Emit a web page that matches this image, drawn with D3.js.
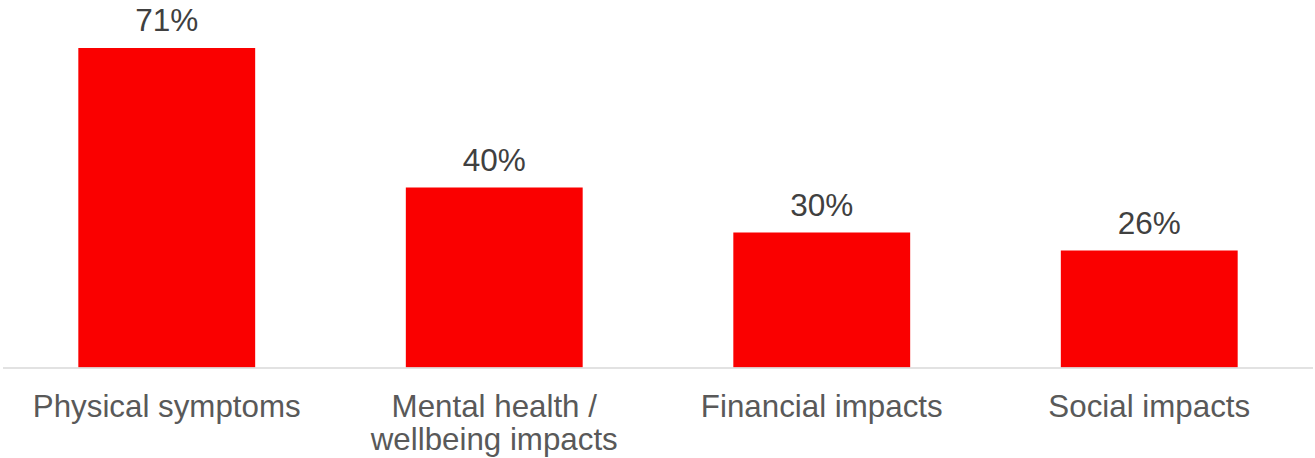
<!DOCTYPE html>
<html>
<head>
<meta charset="utf-8">
<script src="https://cdn.jsdelivr.net/npm/d3@7"></script>
<style>
  html, body { margin: 0; padding: 0; background: #ffffff; }
  svg { display: block; }
</style>
</head>
<body>
<svg id="chart" width="1315" height="458"></svg>
<script>
// Share of respondents reporting each type of impact
const categories = [
  ["Physical symptoms"],
  ["Mental health /", "wellbeing impacts"],
  ["Financial impacts"],
  ["Social impacts"]
];
const categoryKeys = ["Physical symptoms", "Mental health / wellbeing impacts", "Financial impacts", "Social impacts"];
const values = [71, 40, 30, 26];

const width = 1315, height = 458;
const baseline = 367.5;

const svg = d3.select("#chart");

const x = d3.scaleBand()
  .domain(categoryKeys)
  .range([3, 1313])
  .paddingInner(0.46)
  .paddingOuter(0.23);

const y = d3.scaleLinear()
  .domain([0, 71])
  .range([baseline, 48]);

// Bars
svg.append("g")
  .selectAll("rect")
  .data(values)
  .join("rect")
  .attr("x", (d, i) => x(categoryKeys[i]))
  .attr("width", x.bandwidth())
  .attr("y", d => y(d))
  .attr("height", d => baseline - y(d))
  .attr("fill", "#FA0000");

// Category axis line
svg.append("line")
  .attr("x1", 3).attr("x2", 1313)
  .attr("y1", baseline + 0.5).attr("y2", baseline + 0.5)
  .attr("stroke", "#D9D9D9")
  .attr("stroke-width", 1.5);

// Value labels
svg.append("g")
  .selectAll("text")
  .data(values)
  .join("text")
  .attr("x", (d, i) => x(categoryKeys[i]) + x.bandwidth() / 2)
  .attr("y", d => y(d) - 17)
  .attr("text-anchor", "middle")
  .attr("font-family", "Liberation Sans, Arial, sans-serif")
  .attr("font-size", 31.5)
  .attr("fill", "#404040")
  .text(d => d + "%");

// Category labels
const catG = svg.append("g");
categories.forEach((lines, i) => {
  const t = catG.append("text")
    .attr("x", x(categoryKeys[i]) + x.bandwidth() / 2)
    .attr("y", 417)
    .attr("text-anchor", "middle")
    .attr("font-family", "Liberation Sans, Arial, sans-serif")
    .attr("font-size", 31.3)
    .attr("fill", "#595959");
  lines.forEach((ln, j) => {
    t.append("tspan")
      .attr("x", x(categoryKeys[i]) + x.bandwidth() / 2)
      .attr("dy", j === 0 ? 0 : 33)
      .text(ln);
  });
});
</script>
</body>
</html>
